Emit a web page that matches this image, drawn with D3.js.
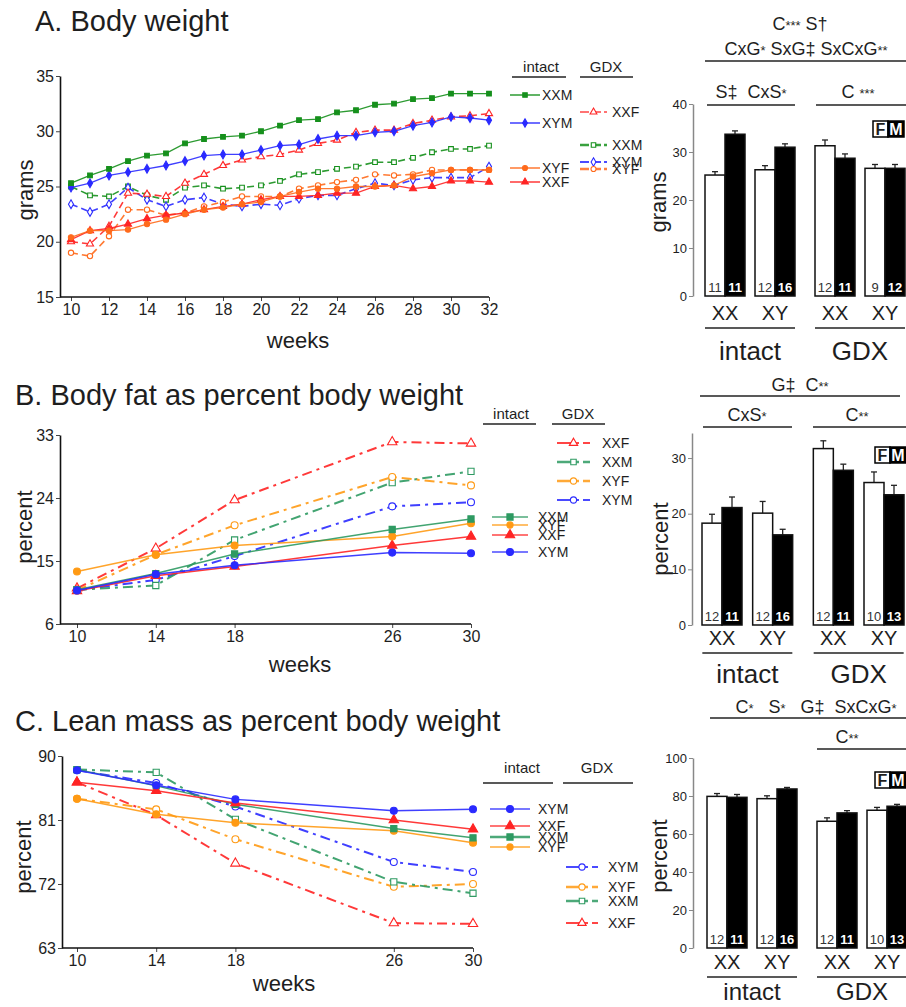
<!DOCTYPE html>
<html>
<head>
<meta charset="utf-8">
<script src="https://cdn.jsdelivr.net/npm/d3@7"></script>
<style>
  body { margin: 0; background: #fff; }
  svg text { font-family: "Liberation Sans", Arial, sans-serif; fill: #1e1e1e; }
</style>
</head>
<body>
<svg id="fig" width="906" height="1007"></svg>
<script>
// ---------- data: A. body weight (grams), weeks 10..32 ----------
const weeksA = [10,11,12,13,14,15,16,17,18,19,20,21,22,23,24,25,26,27,28,29,30,31,32];
const bwIntactXXM = [25.3,26.0,26.6,27.3,27.8,28.0,28.9,29.3,29.5,29.6,30.0,30.5,31.0,31.1,31.7,31.9,32.4,32.5,32.9,33.0,33.4,33.4,33.4];
const bwIntactXYM = [24.9,25.3,26.0,26.3,26.6,26.9,27.3,27.8,27.9,27.9,28.3,28.7,28.8,29.3,29.6,29.6,29.9,30.0,30.5,30.8,31.3,31.2,31.0];
const bwIntactXYF = [20.4,21.0,21.0,21.1,21.6,22.0,22.5,22.9,23.1,23.4,23.6,24.1,24.5,24.8,24.8,25.0,25.0,25.1,25.9,26.2,26.5,26.5,26.5];
const bwIntactXXF = [20.2,21.0,21.2,21.6,22.1,22.4,22.6,22.9,23.2,23.4,23.8,24.1,24.1,24.2,24.4,24.4,25.0,25.1,24.8,25.0,25.5,25.5,25.4];
const bwGdxXXF    = [20.0,19.8,21.4,24.4,24.3,24.1,25.3,26.1,26.9,27.4,27.7,27.9,28.3,28.9,29.2,29.9,30.1,30.1,30.7,31.0,31.3,31.4,31.6];
const bwGdxXXM    = [25.0,24.2,24.1,25.0,24.2,23.8,24.9,25.1,24.8,24.9,25.1,25.5,26.1,26.3,26.6,26.8,27.2,27.2,27.6,28.1,28.4,28.4,28.7];
const bwGdxXYM    = [23.4,22.7,23.4,24.9,23.8,23.2,23.8,24.0,23.4,23.2,23.4,23.3,23.9,24.2,24.2,24.8,25.3,25.1,25.6,25.8,25.8,25.8,26.8];
const bwGdxXYF    = [19.0,18.7,20.5,22.9,22.9,22.4,22.6,23.2,23.6,24.1,24.1,24.1,24.8,25.1,25.4,25.6,26.1,26.0,26.1,26.5,26.5,26.5,26.5];

// ---------- data: B. body fat %, C. lean mass % ----------
const weeksBC = [10,14,18,26,30];
const fatIntactXXM = [10.9,13.2,16.0,19.5,21.0];
const fatIntactXYF = [13.5,15.9,17.2,18.5,20.4];
const fatIntactXXF = [10.7,12.9,14.2,17.2,18.5];
const fatIntactXYM = [10.8,13.1,14.4,16.2,16.1];
const fatGdxXXF = [11.1,16.8,23.7,32.0,31.8];
const fatGdxXXM = [10.9,11.5,18.0,26.2,27.8];
const fatGdxXYF = [10.8,15.9,20.1,27.0,25.8];
const fatGdxXYM = [10.8,12.3,15.7,22.8,23.4];

const leanIntactXYM = [88.0,85.9,83.9,82.3,82.5];
const leanIntactXXF = [86.3,85.1,83.4,81.0,79.7];
const leanIntactXXM = [88.1,85.8,83.2,79.8,78.5];
const leanIntactXYF = [84.0,81.8,80.6,79.5,77.8];
const leanGdxXYM = [88.0,86.2,82.9,75.1,73.7];
const leanGdxXYF = [84.0,82.5,78.3,71.6,72.0];
const leanGdxXXM = [88.1,87.7,81.1,72.3,70.7];
const leanGdxXXF = [86.3,81.7,74.9,66.5,66.4];

// ---------- data: bar charts (F = white, M = black) ----------
const barGroups = ['XX','XY','XX','XY'];
const barTreat  = ['intact','intact','GDX','GDX'];
const barWeightF = [25.2,26.3,31.3,26.6], barWeightFerr = [0.7,0.85,1.2,0.8];
const barWeightM = [33.7,31.0,28.7,26.6], barWeightMerr = [0.7,0.7,0.9,0.8];
const nWeightF = [11,12,12,9], nWeightM = [11,16,11,12];
const barFatF = [18.3,20.1,31.7,25.6], barFatFerr = [1.6,2.1,1.4,1.9];
const barFatM = [21.1,16.2,27.8,23.4], barFatMerr = [1.9,1.0,1.1,1.7];
const barLeanF = [79.8,78.6,66.7,72.5], barLeanFerr = [1.5,1.5,1.8,1.5];
const barLeanM = [79.3,83.7,71.1,74.6], barLeanMerr = [1.5,0.8,1.2,1.0];
const nBodyF = [12,12,12,10], nBodyM = [11,16,11,13];

const ticksWeight = [15,20,25,30,35], ticksFat = [6,15,24,33], ticksLean = [63,72,81,90];
const ticksWeeksA = [10,12,14,16,18,20,22,24,26,28,30,32];

// ---------- styles ----------
const RED = '#ff2424', BLUE = '#2a2aff';
const GREEN_A = '#16901c', ORANGE_A = '#ff6a1c';
const GREEN_BC = '#2e9a62', ORANGE_BC = '#ff9a14';
const DASH_A = '7,4', DASH_BC = '10,5,3,5';
const FONT = '"Liberation Sans", Arial, sans-serif';

const svg = d3.select('#fig');

function styleAxis(a, size) {
  a.selectAll('text').attr('font-size', size).attr('font-family', FONT).attr('fill', '#222');
  a.selectAll('line').attr('stroke', '#444');
  a.select('.domain').attr('stroke', '#111').attr('stroke-width', 1.6);
}

function drawLinePanel(o) {
  const x = d3.scaleLinear().domain(o.xDomain).range(o.xRange);
  const y = d3.scaleLinear().domain(o.yDomain).range(o.yRange);
  const g = svg.append('g');

  const yAx = g.append('g').attr('transform', `translate(${o.axisX},0)`)
    .call(d3.axisLeft(y).tickValues(o.yTicks).tickSize(4).tickSizeOuter(0).tickPadding(2));
  styleAxis(yAx, 16);
  const xAx = g.append('g').attr('transform', `translate(0,${o.yRange[0]})`)
    .call(d3.axisBottom(x).tickValues(o.xTicks).tickSize(4).tickSizeOuter(0).tickPadding(3));
  styleAxis(xAx, 16);
  xAx.select('.domain').remove();
  g.append('line')
    .attr('x1', o.axisX).attr('x2', o.xRange[1])
    .attr('y1', o.yRange[0]).attr('y2', o.yRange[0])
    .attr('stroke', '#111').attr('stroke-width', 1.6);

  const line = d3.line().x(d => x(d[0])).y(d => y(d[1]));
  o.series.forEach(s => {
    const pts = d3.zip(o.weeks, s.values);
    g.append('path').datum(pts)
      .attr('fill', 'none').attr('stroke', s.color)
      .attr('stroke-width', s.dash ? o.dashWidth : o.lineWidth)
      .attr('stroke-opacity', 0.9)
      .attr('stroke-dasharray', s.dash || null)
      .attr('d', line);
    g.selectAll(null).data(pts).join('path')
      .attr('transform', d => `translate(${x(d[0])},${y(d[1])})`)
      .attr('d', d3.symbol(s.symbol, o.markSize))
      .attr('fill', s.filled ? s.color : '#fff')
      .attr('stroke', s.color).attr('stroke-width', 1.1);
  });

  // axis titles
  g.append('text').attr('x', o.weeksLabel[0]).attr('y', o.weeksLabel[1])
    .attr('text-anchor', 'middle').attr('font-size', 22).text('weeks');
  g.append('text').attr('transform', `translate(${o.yLabel[0]},${o.yLabel[1]}) rotate(-90)`)
    .attr('text-anchor', 'middle').attr('font-size', 22).text(o.yLabel[2]);
}

function legendHeader(cx1, cx2, yText, yLine, u1, u2) {
  svg.append('text').attr('x', cx1).attr('y', yText).attr('text-anchor', 'middle')
    .attr('font-size', 15).text('intact');
  svg.append('text').attr('x', cx2).attr('y', yText).attr('text-anchor', 'middle')
    .attr('font-size', 15).text('GDX');
  svg.append('line').attr('x1', u1[0]).attr('x2', u1[1]).attr('y1', yLine).attr('y2', yLine)
    .attr('stroke', '#222').attr('stroke-width', 1.5);
  svg.append('line').attr('x1', u2[0]).attr('x2', u2[1]).attr('y1', yLine).attr('y2', yLine)
    .attr('stroke', '#222').attr('stroke-width', 1.5);
}

function legendItem(x1, x2, tx, y, label, s, size, width) {
  svg.append('line').attr('x1', x1).attr('x2', x2).attr('y1', y).attr('y2', y)
    .attr('stroke', s.color).attr('stroke-width', width).attr('stroke-opacity', 0.85)
    .attr('stroke-dasharray', s.dash || null);
  svg.append('path').attr('transform', `translate(${(x1 + x2) / 2},${y})`)
    .attr('d', d3.symbol(s.symbol, size))
    .attr('fill', s.filled ? s.color : '#fff').attr('stroke', s.color).attr('stroke-width', 1.1);
  svg.append('text').attr('x', tx).attr('y', y + 5).attr('font-size', 14).text(label);
}

// text where '*' runs are drawn small
function richText(x, y, str, size, anchor) {
  const t = svg.append('text').attr('x', x).attr('y', y).attr('font-size', size)
    .attr('text-anchor', anchor || 'middle').style('white-space', 'pre');
  str.split(/(\*+)/).filter(p => p.length).forEach(p => {
    t.append('tspan').attr('font-size', p[0] === '*' ? size * 0.72 : size).text(p);
  });
}
function hline(x1, x2, y) {
  svg.append('line').attr('x1', x1).attr('x2', x2).attr('y1', y).attr('y2', y)
    .attr('stroke', '#222').attr('stroke-width', 1.5);
}

function drawBarPanel(o) {
  const keys = barGroups.map((d, i) => barTreat[i] + d);
  const xp = d3.scalePoint().domain(keys).range(o.xRange);
  const cx = i => xp(keys[i]) + (barTreat[i] === 'GDX' ? 10 : 0);
  const y = d3.scaleLinear().domain(o.yDomain).range(o.yRange);
  const g = svg.append('g');

  const yAx = g.append('g').attr('transform', `translate(${o.axisX},0)`)
    .call(d3.axisLeft(y).tickValues(o.yTicks).tickSize(4).tickSizeOuter(0).tickPadding(2));
  styleAxis(yAx, 13);
  yAx.select('.domain').attr('stroke', '#888').attr('stroke-width', 1.5);
  yAx.selectAll('.tick line').attr('stroke', '#888');

  const bw = 20;
  const bars = [];
  barGroups.forEach((d, i) => {
    bars.push({ x0: cx(i) - bw, v: o.F[i], e: o.Ferr[i], n: o.nF[i], sex: 'F' });
    bars.push({ x0: cx(i), v: o.M[i], e: o.Merr[i], n: o.nM[i], sex: 'M' });
  });
  // error bars
  g.selectAll(null).data(bars).join('line')
    .attr('x1', d => d.x0 + bw / 2).attr('x2', d => d.x0 + bw / 2)
    .attr('y1', d => y(d.v)).attr('y2', d => y(d.v + d.e))
    .attr('stroke', '#222').attr('stroke-width', 1.3);
  g.selectAll(null).data(bars).join('line')
    .attr('x1', d => d.x0 + bw / 2 - 3).attr('x2', d => d.x0 + bw / 2 + 3)
    .attr('y1', d => y(d.v + d.e)).attr('y2', d => y(d.v + d.e))
    .attr('stroke', '#222').attr('stroke-width', 1.3);
  g.selectAll(null).data(bars).join('rect')
    .attr('x', d => d.x0).attr('width', bw)
    .attr('y', d => y(d.v)).attr('height', d => y(0) - y(d.v))
    .attr('fill', d => d.sex === 'F' ? '#fff' : '#000')
    .attr('stroke', '#111').attr('stroke-width', 1.5);
  g.selectAll(null).data(bars).join('text')
    .attr('x', d => d.x0 + bw / 2).attr('y', y(0) - 4)
    .attr('text-anchor', 'middle').attr('font-size', 13)
    .attr('font-weight', d => d.sex === 'M' ? 'bold' : null)
    .style('fill', d => d.sex === 'M' ? '#fff' : '#333')
    .text(d => d.n);

  // group labels
  barGroups.forEach((d, i) => {
    g.append('text').attr('x', cx(i)).attr('y', o.groupY).attr('text-anchor', 'middle')
      .attr('font-size', 20).text(d);
  });
  ['intact', 'GDX'].forEach((t, k) => {
    const c = (cx(2 * k) + cx(2 * k + 1)) / 2;
    hline(c - 45, c + 45, o.groupY + 8);
    g.append('text').attr('x', c).attr('y', o.treatY).attr('text-anchor', 'middle')
      .attr('font-size', o.treatSize || 26).text(t);
  });

  // FM key
  const fm = o.fm;
  g.append('rect').attr('x', fm[0]).attr('y', fm[1]).attr('width', 15).attr('height', 16)
    .attr('fill', '#fff').attr('stroke', '#000').attr('stroke-width', 1.5);
  g.append('rect').attr('x', fm[0] + 15).attr('y', fm[1]).attr('width', 16).attr('height', 16)
    .attr('fill', '#000').attr('stroke', '#000').attr('stroke-width', 1.5);
  g.append('text').attr('x', fm[0] + 7.5).attr('y', fm[1] + 14).attr('text-anchor', 'middle')
    .attr('font-size', 16).attr('font-weight', 'bold').text('F');
  g.append('text').attr('x', fm[0] + 23).attr('y', fm[1] + 14).attr('text-anchor', 'middle')
    .attr('font-size', 16).attr('font-weight', 'bold').style('fill', '#fff').text('M');

  g.append('text').attr('transform', `translate(${o.yLabel[0]},${o.yLabel[1]}) rotate(-90)`)
    .attr('text-anchor', 'middle').attr('font-size', 22).text(o.yLabel[2]);
}

// ---------- titles ----------
[['A. Body weight', 35, 31], ['B. Body fat as percent body weight', 15, 405],
 ['C. Lean mass as percent body weight', 15, 731]].forEach(([t, x, y]) => {
  svg.append('text').attr('x', x).attr('y', y).attr('font-size', 29).text(t);
});

// ---------- panel A ----------
drawLinePanel({
  weeks: weeksA, xDomain: [10, 32], xRange: [71, 489], yDomain: [15, 35], yRange: [297, 76],
  axisX: 60, yTicks: ticksWeight, xTicks: ticksWeeksA, markSize: 22, lineWidth: 1.3, dashWidth: 1.6,
  weeksLabel: [298, 348], yLabel: [33, 190, 'grams'],
  series: [
    { values: bwGdxXXM, color: GREEN_A, dash: DASH_A, symbol: d3.symbolSquare, filled: false },
    { values: bwGdxXYM, color: BLUE, dash: DASH_A, symbol: d3.symbolDiamond, filled: false },
    { values: bwGdxXYF, color: ORANGE_A, dash: DASH_A, symbol: d3.symbolCircle, filled: false },
    { values: bwGdxXXF, color: RED, dash: DASH_A, symbol: d3.symbolTriangle, filled: false },
    { values: bwIntactXXF, color: RED, symbol: d3.symbolTriangle, filled: true },
    { values: bwIntactXYF, color: ORANGE_A, symbol: d3.symbolCircle, filled: true },
    { values: bwIntactXYM, color: BLUE, symbol: d3.symbolDiamond, filled: true },
    { values: bwIntactXXM, color: GREEN_A, symbol: d3.symbolSquare, filled: true }
  ]
});
legendHeader(541, 606, 72, 77, [512, 566], [580, 633]);
legendItem(510, 540, 542, 95, 'XXM', { color: GREEN_A, symbol: d3.symbolSquare, filled: true }, 20, 1.6);
legendItem(510, 540, 542, 123, 'XYM', { color: BLUE, symbol: d3.symbolDiamond, filled: true }, 20, 1.6);
legendItem(510, 540, 542, 168, 'XYF', { color: ORANGE_A, symbol: d3.symbolCircle, filled: true }, 20, 1.6);
legendItem(510, 540, 542, 182, 'XXF', { color: RED, symbol: d3.symbolTriangle, filled: true }, 20, 1.6);
legendItem(580, 607, 612, 112, 'XXF', { color: RED, dash: '9,3', symbol: d3.symbolTriangle, filled: false }, 20, 1.6);
legendItem(580, 607, 612, 145, 'XXM', { color: GREEN_A, dash: '9,3', symbol: d3.symbolSquare, filled: false }, 20, 2.6);
legendItem(580, 607, 612, 162, 'XYM', { color: BLUE, dash: '9,3', symbol: d3.symbolDiamond, filled: false }, 20, 2);
legendItem(580, 607, 612, 169, 'XYF', { color: ORANGE_A, dash: '9,3', symbol: d3.symbolCircle, filled: false }, 20, 2.6);

drawBarPanel({
  xRange: [725, 875], yDomain: [0, 40], yRange: [296, 104], axisX: 693, yTicks: [0, 10, 20, 30, 40],
  F: barWeightF, Ferr: barWeightFerr, M: barWeightM, Merr: barWeightMerr, nF: nWeightF, nM: nWeightM,
  groupY: 320, treatY: 360, fm: [873, 121], yLabel: [666, 202, 'grams']
});
richText(800, 30, 'C*** S†', 18);
richText(806, 55, 'CxG* SxG‡ SxCxG**', 18);
hline(705, 906, 61);
richText(751, 98, 'S‡  CxS*', 18);
hline(707, 795, 105);
richText(858, 98, 'C ***', 18);
hline(816, 906, 105);

// ---------- panel B ----------
drawLinePanel({
  weeks: weeksBC, xDomain: [10, 30], xRange: [77, 471], yDomain: [6, 33], yRange: [624, 435],
  axisX: 60, yTicks: ticksFat, xTicks: weeksBC, markSize: 38, lineWidth: 1.5, dashWidth: 2,
  weeksLabel: [300, 672], yLabel: [32, 527, 'percent'],
  series: [
    { values: fatGdxXYM, color: BLUE, dash: DASH_BC, symbol: d3.symbolCircle, filled: false },
    { values: fatGdxXXM, color: GREEN_BC, dash: DASH_BC, symbol: d3.symbolSquare, filled: false },
    { values: fatGdxXYF, color: ORANGE_BC, dash: DASH_BC, symbol: d3.symbolCircle, filled: false },
    { values: fatGdxXXF, color: RED, dash: DASH_BC, symbol: d3.symbolTriangle, filled: false },
    { values: fatIntactXXF, color: RED, symbol: d3.symbolTriangle, filled: true },
    { values: fatIntactXYF, color: ORANGE_BC, symbol: d3.symbolCircle, filled: true },
    { values: fatIntactXXM, color: GREEN_BC, symbol: d3.symbolSquare, filled: true },
    { values: fatIntactXYM, color: BLUE, symbol: d3.symbolCircle, filled: true }
  ]
});
legendHeader(511, 578, 419, 424, [483, 536], [552, 605]);
legendItem(557, 590, 602, 443, 'XXF', { color: RED, dash: '14,4,4,4', symbol: d3.symbolTriangle, filled: false }, 30, 2);
legendItem(557, 590, 602, 462, 'XXM', { color: GREEN_BC, dash: '14,4,4,4', symbol: d3.symbolSquare, filled: false }, 30, 2.6);
legendItem(557, 590, 602, 481, 'XYF', { color: ORANGE_BC, dash: '14,4,4,4', symbol: d3.symbolCircle, filled: false }, 30, 2.6);
legendItem(557, 590, 602, 500, 'XYM', { color: BLUE, dash: '14,4,4,4', symbol: d3.symbolCircle, filled: false }, 30, 2);
legendItem(492, 528, 538, 517, 'XXM', { color: GREEN_BC, symbol: d3.symbolSquare, filled: true }, 38, 1.6);
legendItem(492, 528, 538, 525, 'XYF', { color: ORANGE_BC, symbol: d3.symbolCircle, filled: true }, 30, 1.6);
legendItem(492, 528, 538, 535, 'XXF', { color: RED, symbol: d3.symbolTriangle, filled: true }, 38, 1.6);
legendItem(492, 528, 538, 552, 'XYM', { color: BLUE, symbol: d3.symbolCircle, filled: true }, 38, 1.6);

drawBarPanel({
  xRange: [722, 874], yDomain: [0, 34.5], yRange: [625, 433], axisX: 692, yTicks: [0, 10, 20, 30],
  F: barFatF, Ferr: barFatFerr, M: barFatM, Merr: barFatMerr, nF: nBodyF, nM: nBodyM,
  groupY: 645, treatY: 683, fm: [875, 447], yLabel: [668, 539, 'percent']
});
richText(800, 391, 'G‡  C**', 18);
hline(700, 900, 396);
richText(747, 421, 'CxS*', 18);
hline(703, 792, 427);
richText(857, 421, 'C**', 18);
hline(813, 906, 427);

// ---------- panel C ----------
drawLinePanel({
  weeks: weeksBC, xDomain: [10, 30], xRange: [77, 473], yDomain: [63, 90], yRange: [948, 756],
  axisX: 62, yTicks: ticksLean, xTicks: weeksBC, markSize: 38, lineWidth: 1.5, dashWidth: 2,
  weeksLabel: [284, 991], yLabel: [31, 857, 'percent'],
  series: [
    { values: leanGdxXXF, color: RED, dash: DASH_BC, symbol: d3.symbolTriangle, filled: false },
    { values: leanGdxXYF, color: ORANGE_BC, dash: DASH_BC, symbol: d3.symbolCircle, filled: false },
    { values: leanGdxXXM, color: GREEN_BC, dash: DASH_BC, symbol: d3.symbolSquare, filled: false },
    { values: leanGdxXYM, color: BLUE, dash: DASH_BC, symbol: d3.symbolCircle, filled: false },
    { values: leanIntactXYF, color: ORANGE_BC, symbol: d3.symbolCircle, filled: true },
    { values: leanIntactXXM, color: GREEN_BC, symbol: d3.symbolSquare, filled: true },
    { values: leanIntactXXF, color: RED, symbol: d3.symbolTriangle, filled: true },
    { values: leanIntactXYM, color: BLUE, symbol: d3.symbolCircle, filled: true }
  ]
});
legendHeader(522, 597, 773, 783, [483, 553], [563, 633]);
legendItem(490, 530, 538, 809, 'XYM', { color: BLUE, symbol: d3.symbolCircle, filled: true }, 38, 1.6);
legendItem(490, 530, 538, 826, 'XXF', { color: RED, symbol: d3.symbolTriangle, filled: true }, 38, 1.6);
legendItem(490, 530, 538, 837, 'XXM', { color: GREEN_BC, symbol: d3.symbolSquare, filled: true }, 38, 2.4);
legendItem(490, 530, 538, 847, 'XYF', { color: ORANGE_BC, symbol: d3.symbolCircle, filled: true }, 30, 1.6);
legendItem(566, 598, 608, 867, 'XYM', { color: BLUE, dash: '14,4,4,4', symbol: d3.symbolCircle, filled: false }, 30, 2);
legendItem(566, 598, 608, 887, 'XYF', { color: ORANGE_BC, dash: '14,4,4,4', symbol: d3.symbolCircle, filled: false }, 30, 2.6);
legendItem(566, 598, 608, 901, 'XXM', { color: GREEN_BC, dash: '14,4,4,4', symbol: d3.symbolSquare, filled: false }, 30, 2.6);
legendItem(566, 598, 608, 923, 'XXF', { color: RED, dash: '14,4,4,4', symbol: d3.symbolTriangle, filled: false }, 30, 2);

drawBarPanel({
  xRange: [727, 877], yDomain: [0, 100], yRange: [948, 758], axisX: 693, yTicks: [0, 20, 40, 60, 80, 100],
  F: barLeanF, Ferr: barLeanFerr, M: barLeanM, Merr: barLeanMerr, nF: nBodyF, nM: nBodyM,
  groupY: 969, treatY: 1000, treatSize: 24, fm: [875, 772], yLabel: [667, 856, 'percent']
});
richText(816, 713, 'C*   S*   G‡  SxCxG*', 18);
hline(710, 906, 718);
richText(847, 743, 'C**', 18);
hline(817, 906, 749);
</script>
</body>
</html>
